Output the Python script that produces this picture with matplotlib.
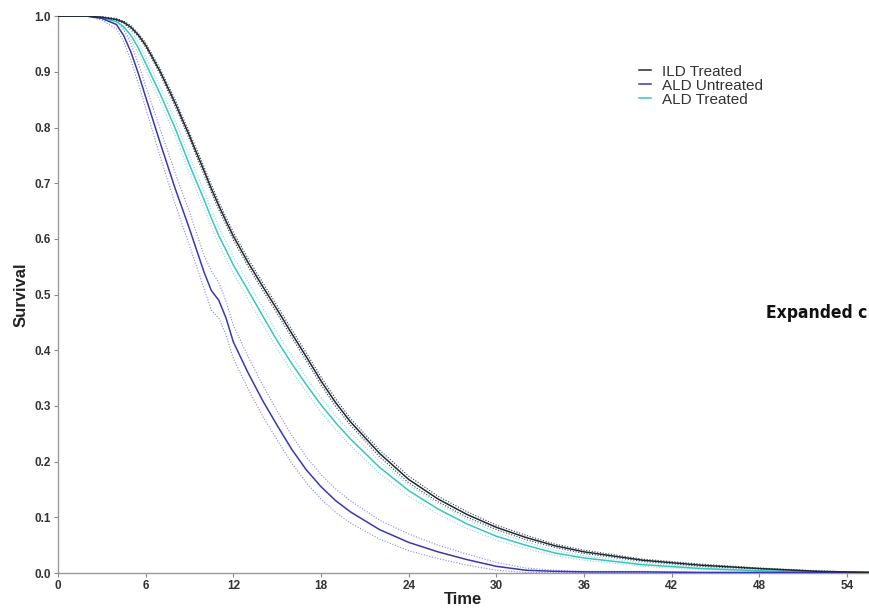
import matplotlib
matplotlib.use("Agg")
import matplotlib.pyplot as plt
import numpy as np
from matplotlib.lines import Line2D

# ---- data ----
time = [0, 2, 3, 4, 4.5, 5, 5.5, 6, 7, 8, 9, 10, 10.5, 11, 11.5, 12, 13, 14, 15, 16, 17, 18, 19, 20,
        22, 24, 26, 28, 30, 32, 34, 36, 40, 44, 48, 52, 55.5]

ild_treated = [1.0, 1.0, 0.998, 0.994, 0.989, 0.98, 0.966, 0.948, 0.90, 0.845, 0.785, 0.722, 0.69, 0.66, 0.632,
               0.605, 0.558, 0.515, 0.473, 0.43, 0.388, 0.345, 0.306, 0.272,
               0.215, 0.168, 0.133, 0.105, 0.082, 0.064, 0.049, 0.038, 0.023, 0.014, 0.008, 0.003, 0.001]
ild_ci = [0, 0, 0.001, 0.002, 0.002, 0.003, 0.003, 0.004, 0.005, 0.006, 0.006, 0.007, 0.007, 0.007, 0.007,
          0.007, 0.007, 0.007, 0.007, 0.007, 0.007, 0.007, 0.007, 0.006,
          0.006, 0.006, 0.005, 0.005, 0.004, 0.004, 0.003, 0.003, 0.002, 0.002, 0.001, 0.001, 0.0]

ald_untreated = [1.0, 1.0, 0.996, 0.985, 0.965, 0.935, 0.897, 0.855, 0.772, 0.692, 0.618, 0.54, 0.507, 0.49, 0.458,
                 0.415, 0.36, 0.31, 0.265, 0.222, 0.185, 0.155, 0.13, 0.11,
                 0.078, 0.055, 0.038, 0.024, 0.012, 0.005, 0.003, 0.002, 0.002, 0.001, 0.001, 0.001, 0.001]
ald_untreated_ci = [0, 0, 0.003, 0.008, 0.011, 0.015, 0.018, 0.02, 0.025, 0.028, 0.03, 0.03, 0.035, 0.032, 0.03,
                    0.03, 0.029, 0.028, 0.026, 0.025, 0.023, 0.022, 0.021, 0.02,
                    0.017, 0.015, 0.012, 0.01, 0.007, 0.004, 0.002, 0.001, 0.001, 0.0, 0.0, 0.0, 0.0]

ald_treated = [1.0, 1.0, 0.997, 0.99, 0.981, 0.965, 0.943, 0.915, 0.86, 0.80, 0.733, 0.67, 0.637, 0.606, 0.58,
               0.553, 0.508, 0.462, 0.417, 0.376, 0.338, 0.302, 0.27, 0.241,
               0.19, 0.148, 0.115, 0.088, 0.066, 0.05, 0.036, 0.027, 0.015, 0.008, 0.004, 0.002, 0.001]
ald_treated_ci = [0, 0, 0.002, 0.005, 0.006, 0.008, 0.01, 0.011, 0.013, 0.014, 0.015, 0.015, 0.015, 0.015, 0.015,
                  0.015, 0.015, 0.015, 0.014, 0.014, 0.013, 0.013, 0.012, 0.012,
                  0.011, 0.01, 0.009, 0.008, 0.007, 0.006, 0.005, 0.004, 0.003, 0.002, 0.001, 0.001, 0.0]

series_names = ["ILD Treated", "ALD Untreated", "ALD Treated"]
xticks = [0, 6, 12, 18, 24, 30, 36, 42, 48, 54]
yticks = [0.0, 0.1, 0.2, 0.3, 0.4, 0.5, 0.6, 0.7, 0.8, 0.9, 1.0]

# ---- figure ----
fig = plt.figure(figsize=(8.69, 6.16), dpi=100)
ax = fig.add_axes([0.0667, 0.0698, 0.9333, 0.904])

t = np.array(time)
styles = [
    (ild_treated, ild_ci, "#1e2a36", "#34404c"),
    (ald_untreated, ald_untreated_ci, "#3838b0", "#8a84e8"),
    (ald_treated, ald_treated_ci, "#3cc4c0", "#86e0da"),
]
for idx in [2, 1, 0]:
    s, ci, col, cicol = styles[idx]
    s = np.array(s); ci = np.array(ci)
    ax.plot(t, np.clip(s + ci, 0, 1), color=cicol, lw=0.8, ls=(0, (1, 1.5)), zorder=2)
    ax.plot(t, np.clip(s - ci, 0, 1), color=cicol, lw=0.8, ls=(0, (1, 1.5)), zorder=2)
for idx in [2, 1, 0]:
    s, ci, col, cicol = styles[idx]
    ax.plot(t, s, color=col, lw=1.1, zorder=3)

leg_handles = [Line2D([], [], color=styles[i][2], lw=1.1) for i in range(3)]
leg = ax.legend(leg_handles, series_names, loc="upper left", bbox_to_anchor=(0.709, 0.924),
                frameon=False, handlelength=0.8, handletextpad=0.7, labelspacing=0.0,
                borderaxespad=0.0,
                prop={"family": ["Liberation Sans", "DejaVu Sans"], "size": 11})
for txt in leg.get_texts():
    txt.set_color("#333333")

ax.set_xlim(0, 55.5)
ax.set_ylim(0, 1.0)
ax.set_xticks(xticks)
ax.set_yticks(yticks)
ax.set_xticklabels([str(v) for v in xticks], fontsize=8.5, fontweight="bold", color="#333333",
                   family=["Liberation Sans", "DejaVu Sans"])
ax.set_yticklabels([f"{v:.1f}" for v in yticks], fontsize=8.5, fontweight="bold", color="#333333",
                   family=["Liberation Sans", "DejaVu Sans"])
ax.tick_params(axis="both", length=3, width=0.8, color="#888888", pad=2)
for sp in ["top", "right"]:
    ax.spines[sp].set_visible(False)
for sp in ["left", "bottom"]:
    ax.spines[sp].set_color("#999999")
    ax.spines[sp].set_linewidth(1.0)

ax.set_xlabel("Time", fontsize=12, fontweight="bold", color="#222222",
              family=["Liberation Sans", "DejaVu Sans"], labelpad=0)
ax.set_ylabel("Survival", fontsize=12, fontweight="bold", color="#222222",
              family=["Liberation Sans", "DejaVu Sans"], labelpad=4)

fig.text(766 / 869, 1 - 313 / 616, "Expanded c", fontsize=12.5, fontweight="bold",
         fontstretch="condensed", family=["DejaVu Sans", "Liberation Sans"],
         ha="left", va="center", color="#111111")

fig.savefig("out.png", dpi=100)
